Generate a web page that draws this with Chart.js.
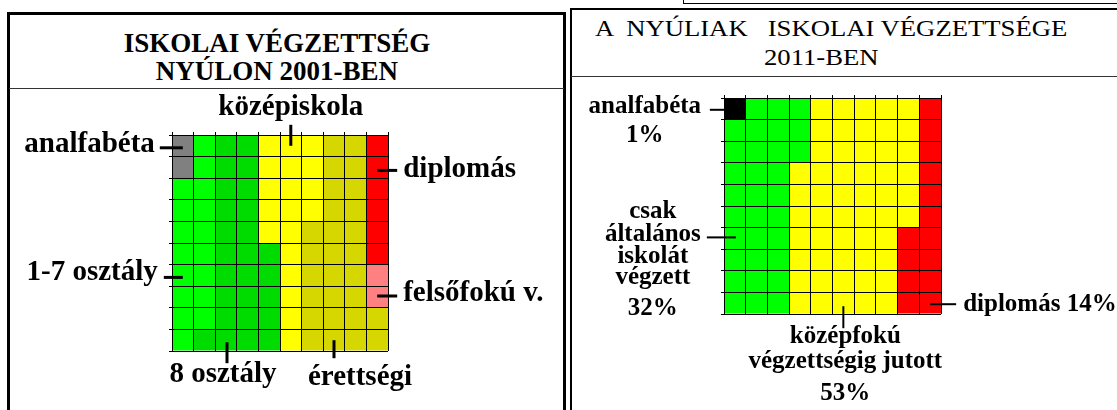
<!DOCTYPE html>
<html><head><meta charset="utf-8">
<script src="https://cdn.jsdelivr.net/npm/chart.js@4.4.1/dist/chart.umd.min.js"></script>
<style>
html,body{margin:0;padding:0;background:#fff;}
body{width:1117px;height:410px;overflow:hidden;position:relative;font-family:"Liberation Serif","Times New Roman",serif;color:#000;}
.abs{position:absolute;box-sizing:border-box;}
#leftBox{left:7px;top:12px;width:559px;height:440px;border:3px solid #000;}
#leftSep{left:9px;width:555px;top:88px;height:1px;background:#333;}
#rightBox{left:570px;top:8px;width:700px;height:440px;border:2px solid #000;}
#rightSep{left:571px;width:560px;top:76px;height:1px;background:#333;}
#topBox{left:683px;top:-20px;width:600px;height:24px;border:1.5px solid #000;}
.t1{font-weight:bold;font-size:27px;line-height:27px;white-space:pre;text-align:center;left:77px;width:400px;}
.t2{font-weight:normal;font-size:23px;line-height:23px;white-space:pre;transform:scaleX(1.16);transform-origin:0 0;}
canvas{position:absolute;left:0;top:0;}
</style>
</head><body>
<div class="abs" id="leftBox"></div>
<div class="abs" id="leftSep"></div>
<div class="abs" id="rightBox"></div>
<div class="abs" id="rightSep"></div>
<div class="abs" id="topBox"></div>
<div class="abs t1" style="top:30px;">ISKOLAI VÉGZETTSÉG</div>
<div class="abs t1" style="top:58px;">NYÚLON 2001-BEN</div>
<div class="abs t2" style="top:17px;left:595px;">A  NYÚLIAK   ISKOLAI VÉGZETTSÉGE</div>
<div class="abs t2" style="top:46px;left:764px;">2011-BEN</div>
<canvas id="c2001" width="1117" height="410"></canvas>
<canvas id="c2011" width="1117" height="410"></canvas>
<script>
// ---- DATA ----
// Waffle grids, 10 rows (top to bottom) x 10 columns, one cell = 1 %
const columns = ['1','2','3','4','5','6','7','8','9','10'];
const cellPercent = 1;

// 2001 codes: A analfabéta, L 1-7 osztály, E 8 osztály, K középiskola, R érettségi, D diplomás, F felsőfokú v.
const grid2001 = [
  'ALEEKKKRRD',
  'ALEEKKKRRD',
  'LLEEKKKRRD',
  'LLEEKKKRRD',
  'LLEEKKRRRD',
  'LLEEEKRRRD',
  'LLEEEKRRRF',
  'LLEEEKRRRF',
  'LLEEEKRRRR',
  'LEEEEKRRRR'
];
const labels2001 = {A:'analfabéta', L:'1-7 osztály', E:'8 osztály', K:'középiskola', R:'érettségi', D:'diplomás', F:'felsőfokú v.'};

// 2011 codes: A analfabéta, C csak általános iskolát végzett, K középfokú végzettségig jutott, D diplomás
const grid2011 = [
  'ACCCKKKKKD',
  'CCCCKKKKKD',
  'CCCCKKKKKD',
  'CCCKKKKKKD',
  'CCCKKKKKKD',
  'CCCKKKKKKD',
  'CCCKKKKKDD',
  'CCCKKKKKDD',
  'CCCKKKKKDD',
  'CCCKKKKKDD'
];
const labels2011 = {A:['analfabéta'], C:['csak','általános','iskolát','végzett'], K:['középfokú','végzettségig jutott'], D:['diplomás']};

// ---- STYLE ----
const colors2001 = {A:'#808080', L:'#00ff00', E:'#00dc00', K:'#ffff00', R:'#d6d600', D:'#ff0000', F:'#ff8080'};
const colors2011 = {A:'#000000', C:'#00ff00', K:'#ffff00', D:'#ff0000'};

function pct(grid, code){
  let n = 0; grid.forEach(r => { for (const ch of r) if (ch === code) n += cellPercent; });
  return n + '%';
}

function annotPlugin(grid, specs, font, lw){
  return {
    id: 'annot',
    afterDraw(chart){
      const ctx = chart.ctx, xs = chart.scales.x, ys = chart.scales.y;
      const nRows = grid.length;
      ctx.save();
      ctx.fillStyle = '#000'; ctx.strokeStyle = '#000'; ctx.lineWidth = lw; ctx.lineCap = 'butt';
      ctx.font = font; ctx.textBaseline = 'alphabetic';
      specs.forEach(s => {
        const x0 = xs.getPixelForValue(s.col);
        const y0 = ys.getPixelForValue(nRows - s.row - 0.5);
        ctx.beginPath();
        ctx.moveTo(x0 + s.lead[0], y0 + s.lead[1]);
        ctx.lineTo(x0 + s.lead[2], y0 + s.lead[3]);
        ctx.stroke();
        ctx.textAlign = s.align;
        s.lines.forEach((t, i) => ctx.fillText(t, x0 + s.tx, y0 + s.ty[i]));
      });
      ctx.restore();
    }
  };
}

function waffle(id, grid, colorMap, padding, plugin){
  const datasets = grid.map(row => ({
    data: row.split('').map(() => cellPercent),
    backgroundColor: row.split('').map(code => colorMap[code]),
    borderWidth: 0,
    barPercentage: 1,
    categoryPercentage: 1,
    inflateAmount: 0
  })).reverse();
  return new Chart(document.getElementById(id), {
    type: 'bar',
    data: {labels: columns, datasets},
    options: {
      responsive: false, animation: false, events: [],
      layout: {padding},
      plugins: {legend: {display: false}, tooltip: {enabled: false}},
      scales: {
        x: {type: 'category', position: 'top', stacked: true, offset: true,
            grid: {display: true, offset: true, z: 1, color: '#000', lineWidth: 1, tickLength: 3, tickColor: '#000'},
            ticks: {display: false}, border: {display: true, z: 1, color: '#000', width: 1}},
        y: {type: 'linear', min: 0, max: grid.length, stacked: true,
            grid: {display: true, z: 1, color: '#000', lineWidth: 1, tickLength: 3, tickColor: '#000'},
            ticks: {display: false, stepSize: 1}, border: {display: true, z: 1, color: '#000', width: 1}}
      }
    },
    plugins: [plugin]
  });
}

// annotation layouts (offsets relative to the anchor cell centre)
const specs2001 = [
  {col:0,row:0, lead:[-23,2,0,2], align:'right', tx:-28, ty:[6], lines:[labels2001.A]},
  {col:5,row:0, lead:[0,-21,0,0], align:'center', tx:0, ty:[-31], lines:[labels2001.K]},
  {col:9,row:1, lead:[0,3,20,3], align:'left', tx:26, ty:[10], lines:[labels2001.D]},
  {col:0,row:6, lead:[-19,2,0,2], align:'right', tx:-25, ty:[5], lines:[labels2001.L]},
  {col:9,row:7, lead:[0,-1,20,-1], align:'left', tx:26, ty:[4], lines:[labels2001.F]},
  {col:2,row:9, lead:[1,2,1,23], align:'center', tx:-3, ty:[42], lines:[labels2001.E]},
  {col:7,row:9, lead:[0,0,0,18], align:'center', tx:26, ty:[45], lines:[labels2001.R]}
];
const specs2011 = [
  {col:0,row:0, lead:[-25,1,0,1], align:'center', tx:-90, ty:[4,33], lines:[...labels2011.A, pct(grid2011,'A')]},
  {col:0,row:6, lead:[-28,-1,1,-1], align:'center', tx:-82, ty:[-20,3,25,46,77], lines:[...labels2011.C, pct(grid2011,'C')]},
  {col:9,row:9, lead:[0,1,26,1], align:'left', tx:33, ty:[8], lines:[labels2011.D[0] + ' ' + pct(grid2011,'D')]},
  {col:5,row:9, lead:[0,3,0,25], align:'center', tx:2, ty:[40,65,97], lines:[...labels2011.K, pct(grid2011,'K')]}
];

waffle('c2001', grid2001, colors2001, {left:169, top:132, right:729, bottom:59},
  annotPlugin(grid2001, specs2001, 'bold 29px "Liberation Serif"', 3));
waffle('c2011', grid2011, colors2011, {left:721, top:95, right:176, bottom:96},
  annotPlugin(grid2011, specs2011, 'bold 25px "Liberation Serif"', 2));
</script>
</body></html>
